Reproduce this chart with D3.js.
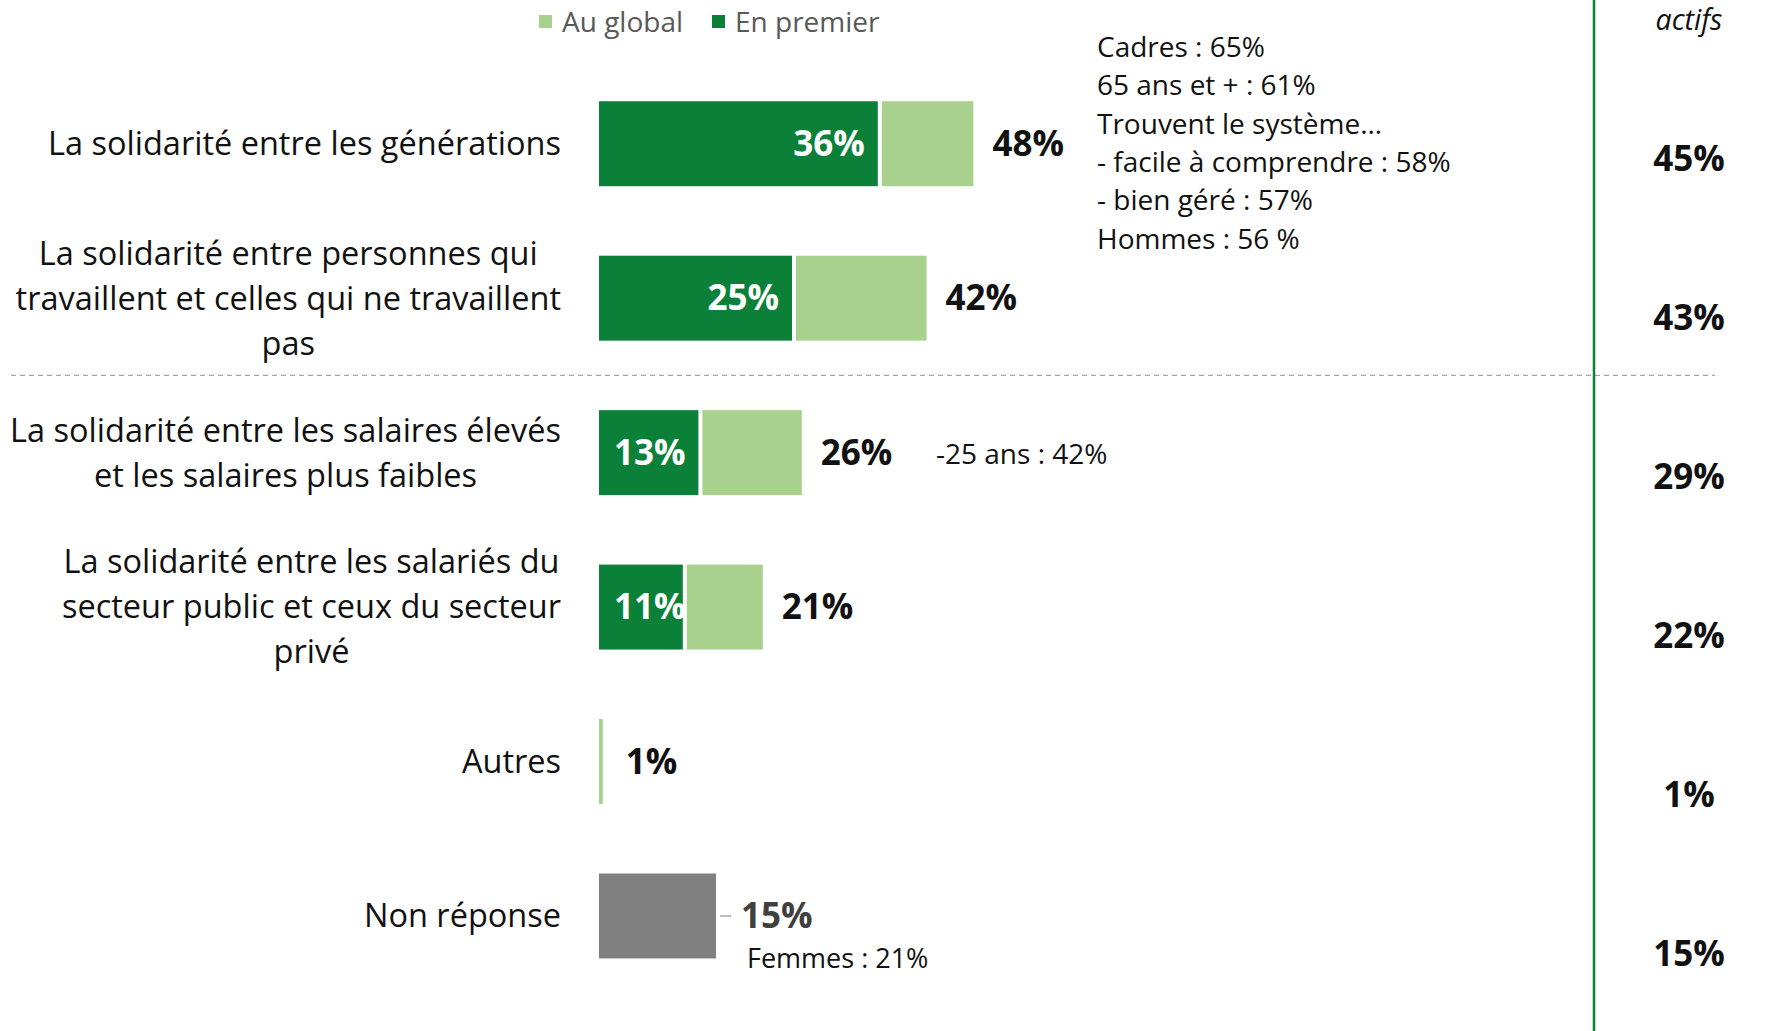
<!DOCTYPE html>
<html>
<head>
<meta charset="utf-8">
<script src="https://cdn.jsdelivr.net/npm/d3@7"></script>
<style>
  body { margin: 0; background: #fff; }
  svg { display: block; font-family: "Open Sans", Lato, sans-serif; }
</style>
</head>
<body>
<div id="chart"></div>
<script>
// data
var categories = [
  "La solidarité entre les générations",
  "La solidarité entre personnes qui\ntravaillent et celles qui ne travaillent\npas",
  "La solidarité entre les salaires élevés\net les salaires plus faibles",
  "La solidarité entre les salariés du\nsecteur public et ceux du secteur\nprivé",
  "Autres",
  "Non réponse"
];
var enPremier = [36, 25, 13, 11, null, null];
var auGlobal = [48, 42, 26, 21, 1, 15];
var actifs = [45, 43, 29, 22, 1, 15];
var legendLabels = ["Au global", "En premier"];
var noteGenerations = ["Cadres : 65%", "65 ans et + : 61%", "Trouvent le système…",
  "- facile à comprendre : 58%", "- bien géré : 57%", "Hommes : 56 %"];
var noteSalaires = "-25 ans : 42%";
var noteNonReponse = "Femmes : 21%";

var W = 1781, H = 1031;
var darkGreen = "#0a8038", lightGreen = "#a9d18e", grey = "#808080";

var svg = d3.select("#chart").append("svg")
    .attr("width", W)
    .attr("height", H);

// scales
var x = d3.scaleLinear().domain([0, 100]).range([599, 599 + 780]);
var y = d3.scaleBand().domain(categories).range([66.5, 993.2])
    .paddingInner(0.45).paddingOuter(0.225);
var yRight = d3.scalePoint().domain(categories).range([159, 954]);

// legend
var legend = svg.append("g").attr("transform", "translate(539,22)");
var legendColors = [lightGreen, darkGreen];
var lx = [0, 173];
legendLabels.forEach(function(l, i) {
  legend.append("rect").attr("x", lx[i]).attr("y", -7).attr("width", 13).attr("height", 13)
      .attr("fill", legendColors[i]);
  legend.append("text").attr("x", lx[i] + 23).attr("y", 0).attr("dy", "0.35em")
      .attr("font-size", 28).attr("fill", "#595959").text(l);
});

// dashed separator between 2nd and 3rd categories
var sepY = (y(categories[1]) + y(categories[2]) + y.bandwidth()) / 2;
svg.append("line")
    .attr("x1", 11).attr("x2", 1715).attr("y1", sepY).attr("y2", sepY)
    .attr("stroke", "#a6a6a6").attr("stroke-width", 1.2).attr("stroke-dasharray", "5,4");

// green vertical line for right column
svg.append("line")
    .attr("x1", 1594).attr("x2", 1594).attr("y1", 0).attr("y2", H)
    .attr("stroke", darkGreen).attr("stroke-width", 2.5);

// category labels, centered block, right aligned
var labelRight = 561, lineH = 45;
categories.forEach(function(c) {
  var lines = c.split("\n");
  var g = svg.append("g");
  var cy = y(c) + y.bandwidth() / 2;
  var texts = lines.map(function(l, i) {
    return g.append("text")
        .attr("y", cy + (i - (lines.length - 1) / 2) * lineH)
        .attr("dy", "0.35em")
        .attr("font-size", 32.5)
        .attr("fill", "#111")
        .attr("text-anchor", "middle")
        .text(l);
  });
  var maxW = d3.max(texts, function(t) { return t.node().getComputedTextLength(); });
  texts.forEach(function(t) { t.attr("x", labelRight - maxW / 2); });
});

// bars
var rows = categories.map(function(c, i) {
  return { cat: c, first: enPremier[i], total: auGlobal[i] };
});
var gap = 2;

rows.forEach(function(d, i) {
  var top = y(d.cat), h = y.bandwidth(), cy = top + h / 2;
  if (d.cat === "Non réponse") {
    svg.append("rect").attr("x", x(0)).attr("y", top)
        .attr("width", x(d.total) - x(0)).attr("height", h).attr("fill", grey);
    svg.append("line").attr("x1", x(d.total) + 4).attr("x2", x(d.total) + 15)
        .attr("y1", cy).attr("y2", cy).attr("stroke", "#a6a6a6").attr("stroke-width", 1.5);
    svg.append("text").attr("x", x(d.total) + 25).attr("y", cy).attr("dy", "0.35em")
        .attr("font-size", 35).attr("font-weight", "bold").attr("fill", "#404040")
        .text(d.total + "%");
    return;
  }
  var start = d.first ? x(d.first) + gap : x(0);
  if (d.first) {
    svg.append("rect").attr("x", x(0)).attr("y", top)
        .attr("width", x(d.first) - gap - x(0)).attr("height", h).attr("fill", darkGreen);
  }
  svg.append("rect").attr("x", start).attr("y", top)
      .attr("width", Math.max(3, x(d.total) - start - (d.first ? 0 : 4))).attr("height", h)
      .attr("fill", lightGreen);

  if (d.first) {
    var t = svg.append("text").attr("y", cy).attr("dy", "0.35em")
        .attr("font-size", 35).attr("font-weight", "bold").attr("fill", "#fff")
        .attr("text-anchor", "end").text(d.first + "%");
    var tw = t.node().getComputedTextLength();
    t.attr("x", Math.max(x(d.first) - 15, x(0) + 15 + tw));
  }
  svg.append("text").attr("x", x(d.total) + 19).attr("y", cy).attr("dy", "0.35em")
      .attr("font-size", 35).attr("font-weight", "bold").attr("fill", "#111")
      .text(d.total + "%");
});

// annotations
var n1 = svg.append("g");
noteGenerations.forEach(function(l, i) {
  n1.append("text").attr("x", 1097).attr("y", 47 + i * 38.4).attr("dy", "0.35em")
      .attr("font-size", 28).attr("fill", "#111").text(l);
});
svg.append("text").attr("x", 936).attr("y", y(categories[2]) + y.bandwidth() / 2 + 2)
    .attr("dy", "0.35em").attr("font-size", 28).attr("fill", "#111").text(noteSalaires);
svg.append("text").attr("x", 747).attr("y", 959)
    .attr("dy", "0.35em").attr("font-size", 27).attr("fill", "#111").text(noteNonReponse);

// right column : actifs
svg.append("text").attr("x", 1689).attr("y", 20).attr("dy", "0.35em")
    .attr("text-anchor", "middle").attr("font-size", 28.5).attr("font-style", "italic")
    .attr("fill", "#111").text("actifs");
categories.forEach(function(c, i) {
  svg.append("text").attr("x", 1689).attr("y", yRight(c)).attr("dy", "0.35em")
      .attr("text-anchor", "middle").attr("font-size", 35).attr("font-weight", "bold")
      .attr("fill", "#111").text(actifs[i] + "%");
});
</script>
</body>
</html>
